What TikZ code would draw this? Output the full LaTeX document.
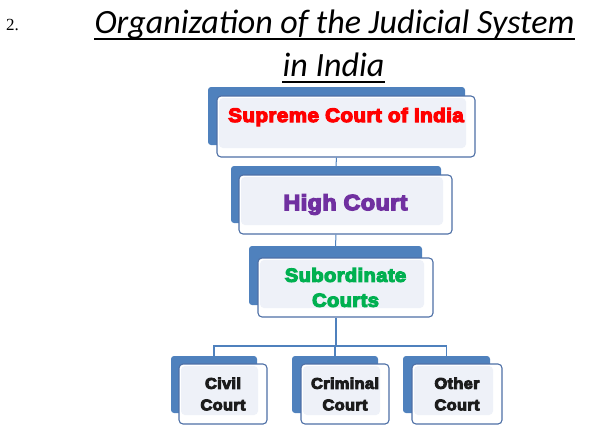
\documentclass[tikz,border=0pt]{standalone}
\usepackage{fontspec}
\setmainfont{Liberation Serif}
\newfontfamily\titlefont{Carlito}
\newfontfamily\heavyfont[FakeBold=6,FakeStretch=1.06,LetterSpace=2]{Liberation Sans Bold}
\usetikzlibrary{calc,positioning}
\definecolor{boxblue}{HTML}{4F81BD}
\definecolor{edgeblue}{HTML}{4E70A6}
\definecolor{panefill}{HTML}{EEF1F8}
\definecolor{scred}{HTML}{FF0000}
\definecolor{hcpurple}{HTML}{7030A0}
\definecolor{subgreen}{HTML}{00B050}
\definecolor{courtink}{HTML}{1C1C1C}
\tikzset{
  heading/.style={
    anchor=base,
    inner sep=0pt,
    font=\titlefont\itshape\fontsize{34}{40}\selectfont
  },
  underline/.style={
    line width=1.6pt
  },
  backbox/.style={
    fill=boxblue,
    rounded corners=3pt,
    inner sep=0pt
  },
  frontbox/.style={
    draw=edgeblue,
    line width=1.1pt,
    fill=white,
    rounded corners=4pt,
    align=center,
    inner sep=0pt,
    path picture={
      \fill[panefill] ([xshift=2pt,yshift=-2pt]path picture bounding box.north west)
        rectangle ([xshift=-9pt,yshift=9pt]path picture bounding box.south east);
    }
  },
  courtbox/.style={
    frontbox,
    minimum width=88pt,
    minimum height=60pt,
    text=courtink,
    font=\heavyfont\fontsize{15.5}{21.5}\selectfont
  },
  courtback/.style={
    backbox,
    minimum width=86pt,
    minimum height=57pt
  },
  link/.style={
    draw=boxblue,
    line width=1.2pt
  },
  trunk/.style={
    link,
    line width=2pt
  }
}

\begin{document}
\begin{tikzpicture}[x=1pt, y=-1pt]
  \useasboundingbox (0,0) rectangle (594,442);

  % heading
  \node[anchor=base west, inner sep=0pt, font=\fontsize{17}{20}\selectfont] (num) at (6,30) {2.};
  \node[heading] (ttl1) at (334.5,33) {Organization of the Judicial System};
  \node[heading] (ttl2) at (333.5,76) {in India};
  \draw[underline] ([yshift=-6pt]ttl1.base west) -- ([yshift=-6pt]ttl1.base east);
  \draw[underline] ([yshift=-6pt]ttl2.base west) -- ([yshift=-6pt]ttl2.base east);

  % supreme court
  \node[backbox, minimum width=257pt, minimum height=58pt] (scb) at (336.5,116) {};
  \node[frontbox, minimum width=258pt, minimum height=61pt, text=scred,
    text height=14pt, text depth=23pt,
    font=\heavyfont\fontsize{19.5}{23}\selectfont] (sc) at (346,126.5) {Supreme Court of India};

  % high court
  \node[backbox, minimum width=210pt, minimum height=57pt] (hcb) at (336,194.5) {};
  \node[frontbox, minimum width=213pt, minimum height=59pt, text=hcpurple,
    font=\heavyfont\fontsize{22}{26}\selectfont] (hc) at (345.5,204.5) {High Court};

  % subordinate courts
  \node[backbox, minimum width=173pt, minimum height=59pt] (subb) at (335.5,275.5) {};
  \node[frontbox, minimum width=175pt, minimum height=59pt, text=subgreen,
    font=\heavyfont\fontsize{19}{25}\selectfont] (sub) at (345.5,287.5) {Subordinate\\Courts};

  % lower courts
  \node[courtback] (civb) at (214,384.5) {};
  \node[courtbox] (civ) at (223,394) {Civil\\Court};
  \node[courtback] (crimb) at (335,384.5) {};
  \node[courtbox] (crim) at (345,394) {Criminal\\Court};
  \node[courtback, minimum width=87pt] (othb) at (446.5,384.5) {};
  \node[courtbox, minimum width=90pt] (oth) at (457,394) {Other\\Court};

  % connectors
  \coordinate (fork) at (335.5,346);
  \draw[link, line width=1pt] (sc.south -| scb.south) -- (hcb.north);
  \draw[link, line width=1pt] (hc.south -| hcb.south) -- (subb.north);
  \draw[trunk] (sub.south -| subb.south) -- (fork);
  \draw[link] (civb.north) |- (fork) -| (othb.north);
  \draw[link] (crimb.north) -- (crimb.north |- fork);
\end{tikzpicture}
\end{document}
